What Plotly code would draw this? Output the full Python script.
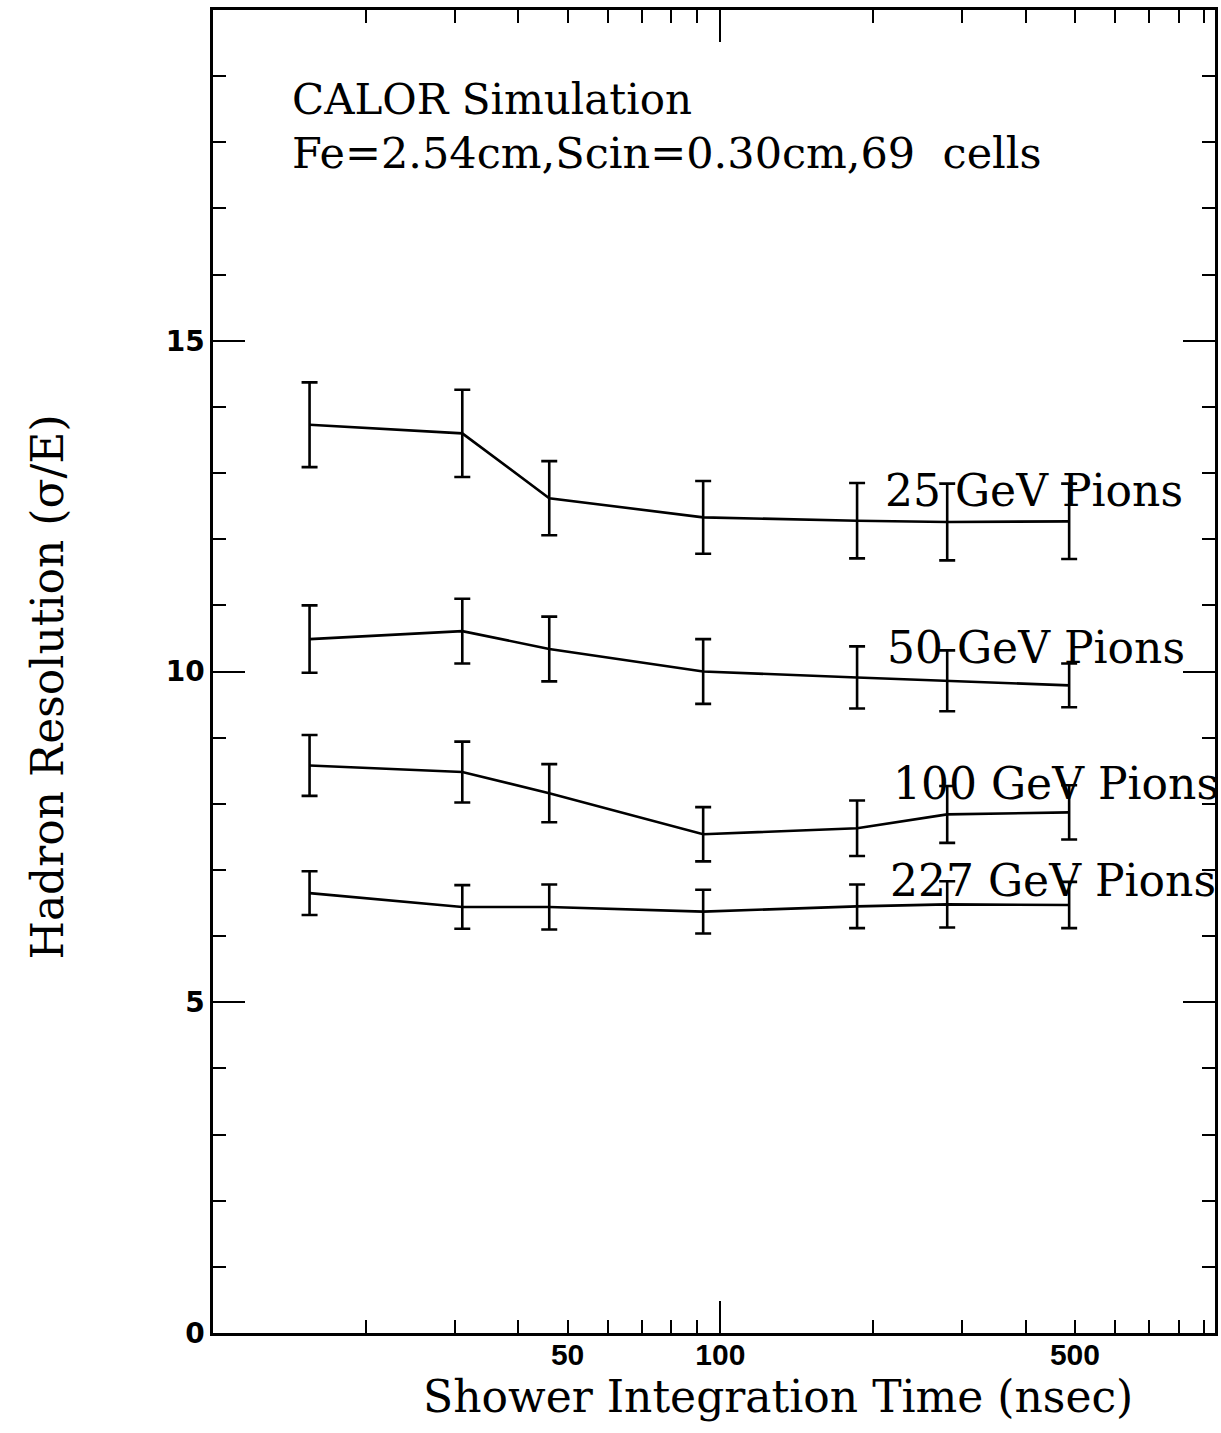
import plotly.graph_objects as go

# ---- data ----
time_ns = [15.5, 31, 46, 92.5, 186, 280, 487]

res_25 = [13.73, 13.60, 12.62, 12.33, 12.28, 12.26, 12.27]
err_25 = [0.64, 0.66, 0.56, 0.55, 0.57, 0.58, 0.57]

res_50 = [10.49, 10.61, 10.34, 10.00, 9.91, 9.86, 9.79]
err_50 = [0.51, 0.49, 0.49, 0.49, 0.47, 0.46, 0.33]

res_100 = [8.58, 8.48, 8.16, 7.54, 7.63, 7.84, 7.87]
err_100 = [0.46, 0.46, 0.44, 0.41, 0.42, 0.43, 0.41]

res_227 = [6.65, 6.44, 6.44, 6.37, 6.45, 6.48, 6.47]
err_227 = [0.33, 0.33, 0.34, 0.33, 0.33, 0.35, 0.35]

series_labels = ["25 GeV Pions", "50 GeV Pions", "100 GeV Pions", "227 GeV Pions"]

x_tickvals = [20, 30, 40, 50, 60, 70, 80, 90, 100, 200, 300, 400, 500, 600, 700, 800, 900]
x_ticktext = ["", "", "", "50", "", "", "", "", "100", "", "", "", "500", "", "", "", ""]
y_tickvals = [0, 5, 10, 15]
y_ticktext = ["0", "5", "10", "15"]

SERIF = "DejaVu Serif, Liberation Serif, serif"

fig = go.Figure()
for res, err in [(res_25, err_25), (res_50, err_50), (res_100, err_100), (res_227, err_227)]:
    fig.add_trace(go.Scatter(
        x=time_ns, y=res, mode="lines",
        line=dict(color="black", width=2.6),
        error_y=dict(type="data", array=err, visible=True,
                     color="black", thickness=2.6, width=8),
        hoverinfo="skip", showlegend=False,
    ))

# invisible helper trace so the overlay axis (long tick at 100) is drawn
fig.add_trace(go.Scatter(x=time_ns, y=res_25, xaxis="x2", mode="markers",
                         marker=dict(opacity=0), hoverinfo="skip", showlegend=False))

fig.update_layout(
    width=1221, height=1433,
    margin=dict(l=213, r=3, t=10, b=100, pad=0),
    paper_bgcolor="white", plot_bgcolor="white",
    showlegend=False,
    xaxis=dict(
        type="log", range=[1.0, 2.975],
        tickmode="array", tickvals=x_tickvals, ticktext=x_ticktext,
        ticks="inside", ticklen=13, tickwidth=2, tickcolor="black",
        showline=True, linewidth=2.5, linecolor="black", mirror="ticks",
        showgrid=False, zeroline=False,
        tickfont=dict(family="Liberation Sans Narrow, Arial Narrow, Liberation Sans, sans-serif",
                      size=30, color="black", weight="bold"),
        ticklabelstandoff=-7,
    ),
    xaxis2=dict(
        type="log", range=[1.0, 2.975], overlaying="x", anchor="y", side="bottom",
        tickmode="array", tickvals=[100], ticktext=[""],
        ticks="inside", ticklen=32, tickwidth=2, tickcolor="black",
        showline=False, mirror="ticks", showticklabels=False,
        showgrid=False, zeroline=False,
    ),
    yaxis=dict(
        range=[0, 20],
        tickmode="array", tickvals=y_tickvals, ticktext=y_ticktext,
        ticks="inside", ticklen=32, tickwidth=2, tickcolor="black",
        minor=dict(dtick=1, tick0=0, ticks="inside", ticklen=13, tickwidth=2,
                   tickcolor="black", showgrid=False),
        showline=True, linewidth=2.5, linecolor="black", mirror="ticks",
        showgrid=False, zeroline=False,
        tickfont=dict(family="DejaVu Sans, Liberation Sans, sans-serif",
                      size=28, color="black", weight="bold"),
        ticklabelstandoff=0,
    ),
)

def px_x(px):
    return (px - 213) / 1005.0

def px_y(py):
    return (1333 - py) / 1323.0

annotations = [
    dict(text="CALOR Simulation", x=px_x(290), y=px_y(100), size=42),
    dict(text="Fe=2.54cm,Scin=0.30cm,69  cells", x=px_x(290), y=px_y(153), size=43),
    dict(text=series_labels[0], x=px_x(885), y=px_y(490), size=44),
    dict(text=series_labels[1], x=px_x(887), y=px_y(647), size=44),
    dict(text=series_labels[2], x=px_x(893), y=px_y(783), size=44),
    dict(text=series_labels[3], x=px_x(890), y=px_y(880), size=44),
]
for a in annotations:
    fig.add_annotation(text=a["text"], xref="paper", yref="paper", x=a["x"], y=a["y"],
                       xanchor="left", yanchor="middle", showarrow=False,
                       font=dict(family=SERIF, size=a["size"], color="black"))

fig.add_annotation(text="Shower Integration Time (nsec)", xref="paper", yref="paper",
                   x=px_x(780), y=px_y(1396), xanchor="center", yanchor="middle",
                   showarrow=False, font=dict(family=SERIF, size=44, color="black"))
fig.add_annotation(text="Hadron Resolution (σ/E)", xref="paper", yref="paper",
                   x=px_x(47), y=px_y(687), xanchor="center", yanchor="middle",
                   textangle=-90, showarrow=False,
                   font=dict(family=SERIF, size=44, color="black"))

fig.write_html("out.html")
